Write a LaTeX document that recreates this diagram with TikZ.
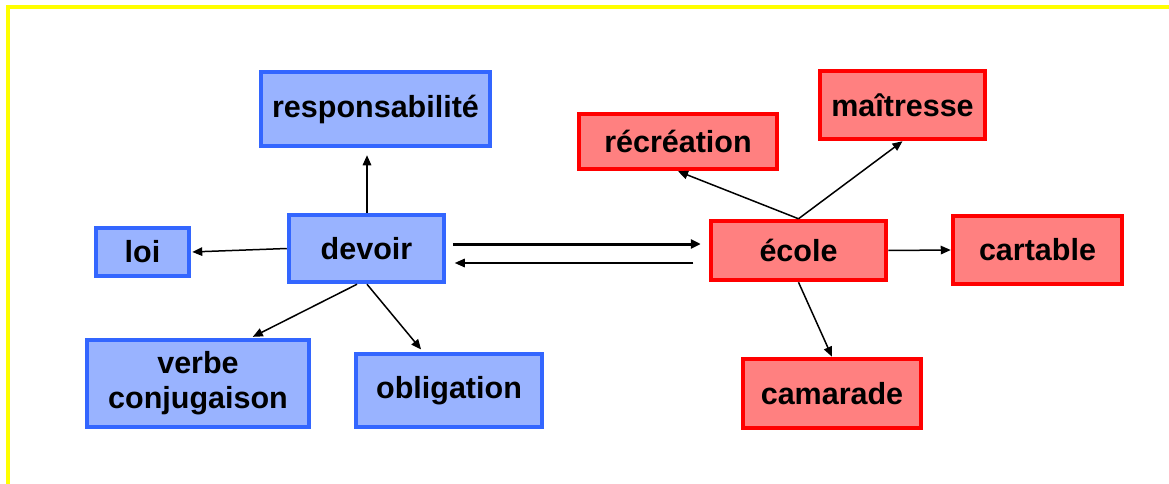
\documentclass[tikz,border=0pt]{standalone}
\usepackage{fontspec}
\setmainfont{Liberation Sans}
\usetikzlibrary{arrows.meta}
\definecolor{bluefill}{RGB}{153,179,255}
\definecolor{blueline}{RGB}{51,102,255}
\definecolor{redfill}{RGB}{255,128,128}
\definecolor{redline}{RGB}{255,0,0}
\definecolor{frameyellow}{RGB}{255,255,0}
\tikzset{
  word/.style={rectangle, line width=4.5pt, inner sep=0pt, align=center,
    font=\fontsize{30.5}{35}\selectfont\bfseries},
  bluebox/.style={word, draw=blueline, fill=bluefill},
  redbox/.style={word, draw=redline, fill=redfill},
  link/.style={line width=1.5pt, -{Triangle[length=10pt,width=8.5pt]}},
  boldlink/.style={line width=3pt, -{Triangle[length=10pt,width=9pt]}},
}
\begin{document}
\begin{tikzpicture}[x=1pt, y=-1pt]
\useasboundingbox (0,0) rectangle (1169,484);
\clip (0,0) rectangle (1169,484);
% yellow page frame
\draw[frameyellow, line width=4pt] (8,500) -- (8,7) -- (1190,7);

% devoir cluster
\node[bluebox, minimum width=229pt, minimum height=74pt] (resp) at (375.5,109) {responsabilité};
\node[bluebox, minimum width=155pt, minimum height=67pt] (devoir) at (366.5,248.5) {devoir};
\node[bluebox, minimum width=93pt, minimum height=48pt] (loi) at (142.5,252) {loi};
\node[bluebox, minimum width=222pt, minimum height=87pt] (verbe) at (198,383.5) {verbe\\conjugaison};
\node[bluebox, minimum width=186pt, minimum height=73pt] (oblig) at (449,390.5) {obligation};

% école cluster
\node[redbox, minimum width=198pt, minimum height=55pt] (recre) at (678,141.5) {récréation};
\node[redbox, minimum width=165pt, minimum height=68pt] (maitre) at (902.5,105) {maîtresse};
\node[redbox, minimum width=175pt, minimum height=59pt] (ecole) at (798.5,250.5) {école};
\node[redbox, minimum width=169pt, minimum height=68pt] (cartable) at (1037.5,250) {cartable};
\node[redbox, minimum width=178pt, minimum height=69pt] (camarade) at (832,393.5) {camarade};

% links from devoir
\draw[link, shorten >=7pt] ([xshift=0.5pt]devoir.north) -- ([xshift=0.5pt]devoir.north |- resp.south);
\draw[link, shorten >=1pt] (devoir.west) -- (loi.east);
\draw[link, shorten >=2pt] ([xshift=-9.5pt]devoir.south) -- ([xshift=53pt]verbe.north);
\draw[link, shorten >=3pt] ([xshift=0.5pt]devoir.south) -- ([xshift=-26pt]oblig.north);

% links between the two centres
\draw[boldlink, shorten <=6.5pt, shorten >=8pt] ([yshift=4.5pt]devoir.east) -- ([yshift=4.5pt]devoir.east -| ecole.west);
\draw[link, shorten <=15.5pt, shorten >=8.5pt] ([yshift=-12.5pt]ecole.west) -- ([yshift=-12.5pt]ecole.west -| devoir.east);

% links from école
\draw[link] (ecole.north) -- (recre.south);
\draw[link] (ecole.north) -- (maitre.south);
\draw[link] (ecole.east) -- (cartable.west);
\draw[link] (ecole.south) -- (camarade.north);
\end{tikzpicture}
\end{document}
